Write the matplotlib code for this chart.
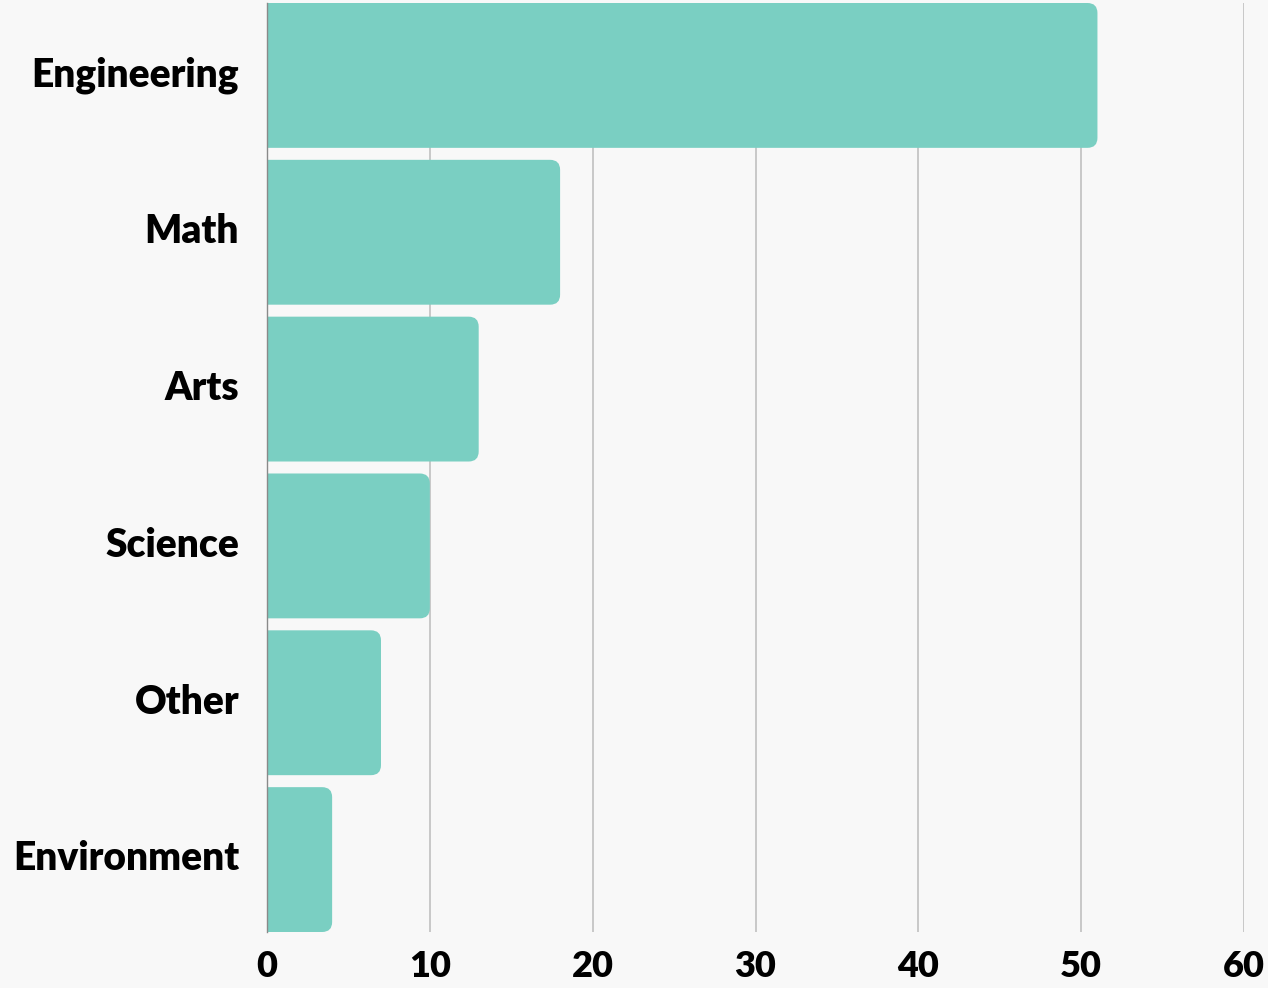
import numpy as np
import matplotlib
matplotlib.use('Agg')
import matplotlib.pyplot as plt
import matplotlib.transforms as mtransforms
from matplotlib.patches import FancyBboxPatch

categories = ['Engineering', 'Math', 'Arts', 'Science', 'Other', 'Environment']
values = [51, 18, 13, 10, 7, 4]
xticks = [0, 10, 20, 30, 40, 50, 60]

bar_color = '#7acfc2'
bg = '#f8f8f8'

plt.rcParams['font.family'] = ['Lato', 'DejaVu Sans']

fig = plt.figure(figsize=(12.68, 9.88), dpi=100, facecolor=bg)
ax = fig.add_axes([267/1268, 56/988, 977/1268, 929/988])
ax.set_facecolor(bg)

h = 145/157
y = np.arange(len(categories))
bars = ax.barh(y, values, height=h, color=bar_color, zorder=2)

# swap plain bars for rounded ones (left end pushed past the axis so it stays square)
ax.set_xlim(0, 60)
ax.set_ylim(len(categories) - 1 + h/2, -h/2)
px_x = 60 / 977.0
px_y = (len(categories) - 1 + h) / 929.0
r = 10
for b in bars:
    x0, y0 = b.get_x(), b.get_y()
    w, hh = b.get_width(), b.get_height()
    b.set_visible(False)
    pad_l = r * px_x * 2
    p = FancyBboxPatch((x0 - pad_l, y0), w + pad_l, hh,
                       boxstyle='round,pad=0,rounding_size=%f' % (r * px_x),
                       mutation_aspect=px_y / px_x,
                       facecolor=bar_color, edgecolor='none', zorder=2, clip_on=True)
    ax.add_patch(p)

ax.set_yticks(y)
ax.set_yticklabels(categories, fontsize=28, fontweight='heavy')
ax.set_xticks(xticks)
ax.set_xticklabels([str(t) for t in xticks], fontsize=26, fontweight='heavy')
ax.tick_params(axis='both', length=0)
ax.tick_params(axis='y', pad=20)
ax.tick_params(axis='x', pad=13)
# nudge category labels up a little
shift = mtransforms.ScaledTranslation(0, 3/72, fig.dpi_scale_trans)
for lab in ax.get_yticklabels():
    lab.set_transform(lab.get_transform() + shift)

ax.grid(axis='x', color='#c4c4c4', linewidth=1.3, zorder=1)
ax.grid(axis='y', visible=False)
for s in ['top', 'right', 'bottom']:
    ax.spines[s].set_visible(False)
ax.spines['left'].set_color('#8a8a8a')
ax.spines['left'].set_linewidth(1)
ax.spines['left'].set_zorder(3)

fig.savefig('out.png', dpi=100, facecolor=bg)
